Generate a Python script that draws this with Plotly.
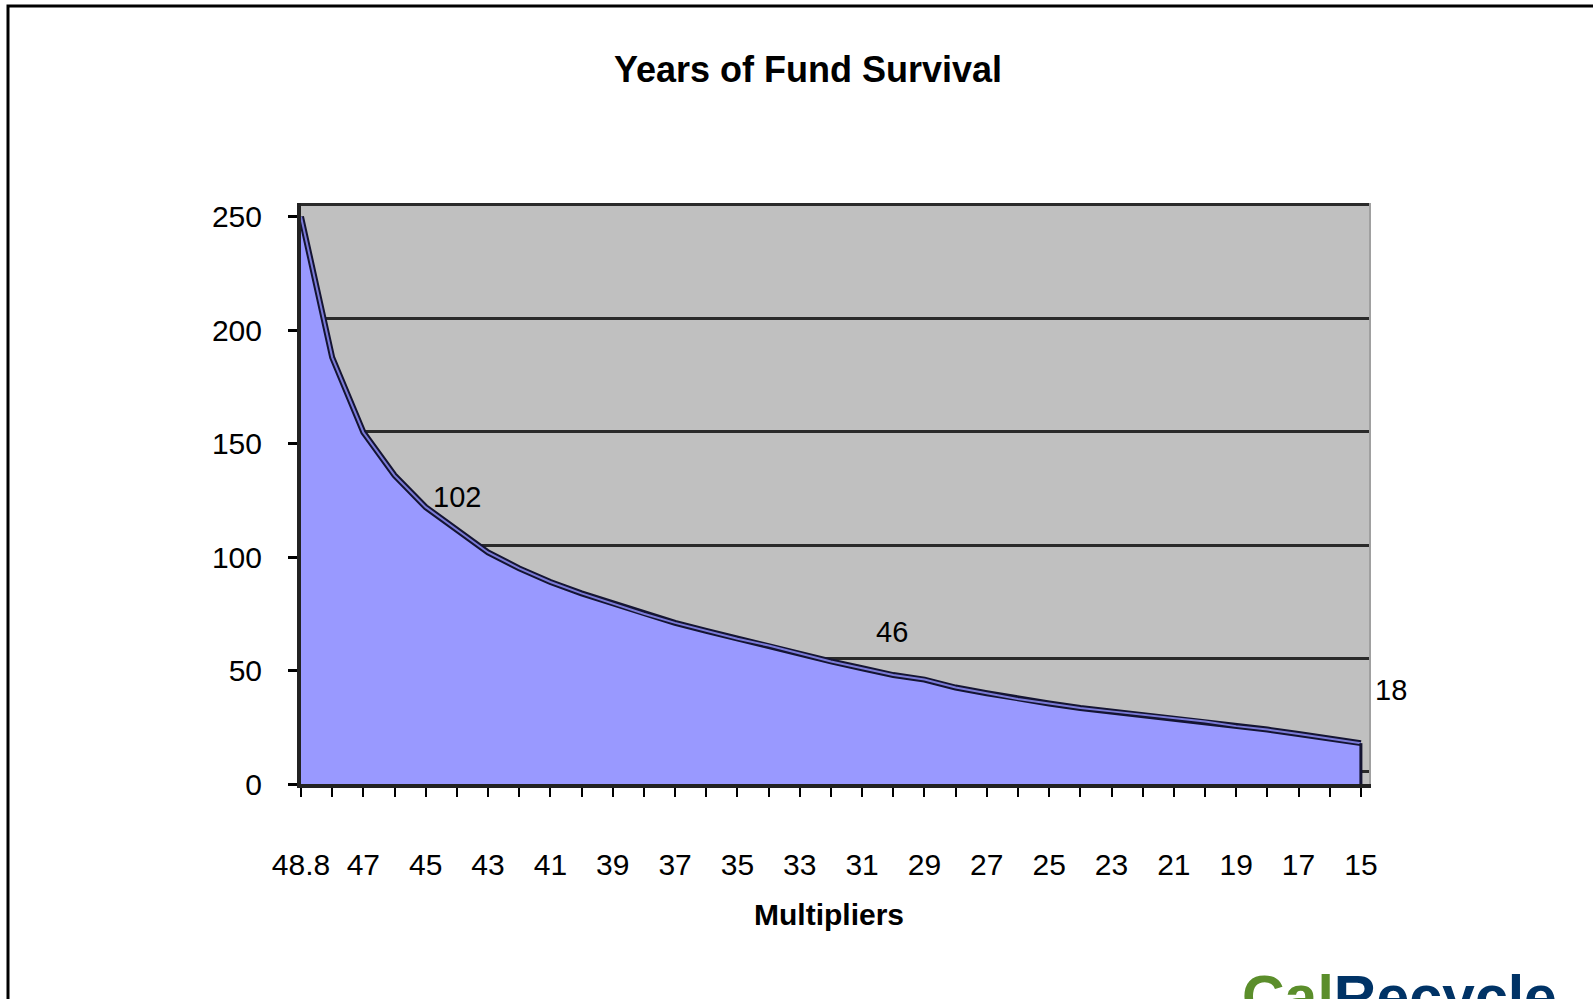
import plotly.graph_objects as go

# ---- data -------------------------------------------------------------
categories = ["48.8", "48", "47", "46", "45", "44", "43", "42", "41", "40",
              "39", "38", "37", "36", "35", "34", "33", "32", "31", "30",
              "29", "28", "27", "26", "25", "24", "23", "22", "21", "20",
              "19", "18", "17", "16", "15"]
years = [250, 188, 155, 136, 122, 112, 102, 95, 89, 84,
         79.5, 75, 71, 67.5, 64, 61, 57.5, 54, 51, 48,
         46, 42.5, 40, 37.5, 35.5, 33.5, 32, 30.5, 29, 27.5,
         25.5, 24, 22, 20, 18]
label_idx = [6, 20, 34]
label_text = ["102", "46", "18"]
y_tick_vals = [0, 50, 100, 150, 200, 250]

title_text = "Years of Fund Survival"
x_title = "Multipliers"

# ---- style -------------------------------------------------------------
FONT = "Liberation Sans Narrow, Arial Narrow, Liberation Sans, Arial, sans-serif"
W, H = 1593, 999
L, R, T, B = 301, 224, 203, 215
PW, PH = W - L - R, H - T - B
label_shift = [(-31, 56), (-32, 48), (30, 53)]


def px(x):
    return (x - L) / PW


def py(y):
    return (H - B - y) / PH


x_idx = list(range(len(categories)))
shown_idx = x_idx[::2]
shown_text = [categories[i] for i in shown_idx]

fig = go.Figure()
fig.add_trace(go.Scatter(
    x=x_idx, y=years, mode="lines", fill="tozeroy",
    fillcolor="#9999FF", line=dict(color="#141432", width=6),
    hoverinfo="skip", showlegend=False))
fig.add_trace(go.Scatter(
    x=x_idx, y=years, mode="lines",
    line=dict(color="#7B7BD8", width=2),
    hoverinfo="skip", showlegend=False))
# closing edge of the area at the last category
fig.add_trace(go.Scatter(
    x=[x_idx[-1], x_idx[-1]], y=[0, years[-1]], mode="lines",
    line=dict(color="#141432", width=3),
    hoverinfo="skip", showlegend=False))
# back-wall grid carrier (offset like the 3D wall)
fig.add_trace(go.Scatter(x=[x_idx[0]], y=[0], yaxis="y2", mode="markers",
                         marker=dict(opacity=0), hoverinfo="skip",
                         showlegend=False))

annotations = []
for (i, t), (dx, dy) in zip(zip(label_idx, label_text), label_shift):
    annotations.append(dict(x=x_idx[i], y=years[i], xref="x", yref="y",
                            text=t, showarrow=False, xshift=dx, yshift=dy,
                            font=dict(family=FONT, size=29, color="black")))

annotations.append(dict(x=px(829), y=py(914), xref="paper", yref="paper",
                        text="<b>" + x_title + "</b>", showarrow=False,
                        xanchor="center", yanchor="middle",
                        font=dict(family=FONT, size=30, color="black")))
annotations.append(dict(x=px(1240), y=py(962), xref="paper", yref="paper",
                        text="<b><span style='color:#5B8E2B'>Cal</span>"
                             "<span style='color:#003366'>Recycle</span></b>",
                        showarrow=False, xanchor="left", yanchor="top",
                        font=dict(family=FONT, size=59)))

fig.update_layout(
    width=W, height=H,
    margin=dict(l=L, r=R, t=T, b=B),
    paper_bgcolor="white", plot_bgcolor="#C0C0C0",
    title=dict(text="<b>" + title_text + "</b>", x=808 / W, y=1 - 69 / H,
               xanchor="center", yanchor="middle",
               font=dict(family=FONT, size=36, color="black")),
    xaxis=dict(range=[0, 34.26], tickmode="array", tickvals=shown_idx,
               ticktext=shown_text, ticks="outside", ticklen=9, tickwidth=2,
               tickcolor="black", showgrid=False, zeroline=False,
               showline=True, linecolor="#222", linewidth=4,
               minor=dict(ticks="outside", dtick=1, tick0=0, ticklen=9,
                          tickwidth=2, tickcolor="black", showgrid=False),
               ticklabelstandoff=42,
               tickfont=dict(family=FONT, size=30, color="black")),
    yaxis=dict(range=[0, 256], tickmode="array", tickvals=y_tick_vals,
               ticks="outside", ticklen=9, tickwidth=3, tickcolor="black",
               showgrid=False, zeroline=False, showline=True,
               linecolor="#222", linewidth=4, ticklabelstandoff=20,
               tickfont=dict(family=FONT, size=30, color="black")),
    yaxis2=dict(overlaying="y", side="right", range=[-5.3, 250.7],
                tickmode="array", tickvals=y_tick_vals, showgrid=True,
                gridcolor="#2a2a2a", gridwidth=3, showticklabels=False,
                ticks="", zeroline=False, showline=True,
                linecolor="#A0A0A0", linewidth=2),
    annotations=annotations,
    shapes=[dict(type="rect", xref="paper", yref="paper",
                 x0=px(8), x1=1.3, y0=-0.5, y1=py(6),
                 line=dict(color="black", width=3), fillcolor="rgba(0,0,0,0)",
                 layer="below")],
)

fig.write_html("out.html",
               config={"displayModeBar": False},
               post_script="document.body.style.margin='0px';"
                           "document.body.style.overflow='hidden';")
